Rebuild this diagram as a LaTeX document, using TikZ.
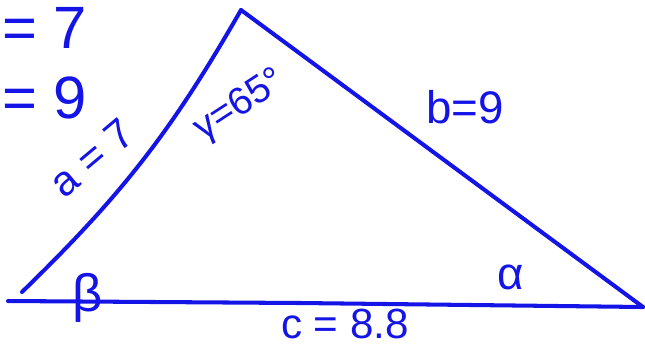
\documentclass[tikz,border=0pt]{standalone}
\usepackage{fontspec}
\setmainfont{Liberation Sans}
\definecolor{penblue}{RGB}{20,20,230}
\begin{document}
\begin{tikzpicture}[x=0.02cm, y=-0.02cm, line width=2.3pt, line cap=round, line join=round]
\tikzset{pen/.style={draw=penblue}, hand/.style={text=penblue, inner sep=0pt}}
\useasboundingbox (0,0) rectangle (645,349);
% vertices
\coordinate (A) at (643,307);
\coordinate (B) at (8,301);
\coordinate (B1) at (22,292);
\coordinate (C) at (241,10);
% sides
\draw[pen] (B) -- (300,303) -- (A);
\draw[pen] (B1) to [bend right=8] (C);
\draw[pen] (C) -- (A);
% given values
\node[hand, anchor=west, font=\fontsize{34}{34}\selectfont] (g1) at (0,28){= 7};
\node[hand, anchor=west, font=\fontsize{34}{34}\selectfont] (g2) at (0,98){= 9};
% labels
\node[hand, rotate=40, font=\fontsize{24}{24}\selectfont] (a) at (92,158){a = 7};
\node[hand, rotate=33, font=\fontsize{22}{22}\selectfont] (gamma) at (240,106){γ=65°};
\node[hand, font=\fontsize{26}{26}\selectfont] (b) at (465,107){b=9};
\node[hand, font=\fontsize{24}{24}\selectfont] (c) at (345,324){c = 8.8};
\node[hand, font=\fontsize{30}{30}\selectfont] (beta) at (88,298){β};
\node[hand, font=\fontsize{26}{26}\selectfont] (alpha) at (511,277){α};
\end{tikzpicture}
\end{document}
